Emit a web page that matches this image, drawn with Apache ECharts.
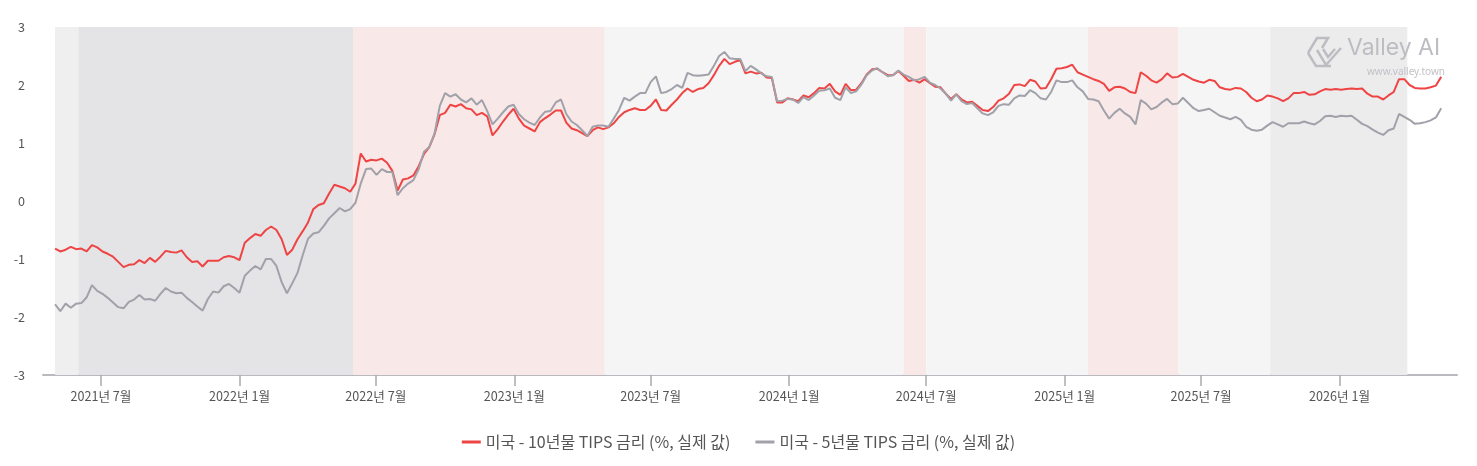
<!DOCTYPE html>
<html><head><meta charset="utf-8">
<script src="https://cdn.jsdelivr.net/npm/echarts@6/dist/echarts.min.js"></script>
<style>html,body{margin:0;padding:0;background:#fff}#c{width:1477px;height:466px}</style>
</head><body><div id="c"></div>
<script>
const SERIES_NAMES = ['미국 - 10년물 TIPS 금리 (%, 실제 값)', '미국 - 5년물 TIPS 금리 (%, 실제 값)'];
const FIRST_DATE = '2021-05-01';
const STEP_DAYS = 7;
const AXIS_MIN = '2021-04-15';
const AXIS_MAX = '2026-06-06';

const TIPS10 = [
-0.82,-0.87,-0.84,-0.79,-0.83,-0.82,-0.87,-0.76,-0.80,-0.87,
-0.91,-0.96,-1.05,-1.14,-1.10,-1.09,-1.02,-1.07,-0.98,-1.05,
-0.96,-0.86,-0.88,-0.89,-0.85,-0.97,-1.05,-1.04,-1.13,-1.03,
-1.03,-1.03,-0.97,-0.95,-0.97,-1.02,-0.72,-0.64,-0.57,-0.60,
-0.50,-0.44,-0.50,-0.66,-0.93,-0.84,-0.66,-0.52,-0.37,-0.14,
-0.07,-0.04,0.13,0.28,0.25,0.22,0.16,0.30,0.82,0.68,
0.71,0.70,0.73,0.66,0.52,0.18,0.37,0.39,0.44,0.60,
0.81,0.93,1.15,1.48,1.52,1.66,1.63,1.67,1.60,1.58,
1.48,1.52,1.46,1.13,1.24,1.37,1.49,1.59,1.42,1.30,
1.25,1.20,1.36,1.43,1.49,1.56,1.56,1.35,1.25,1.22,
1.17,1.12,1.22,1.27,1.24,1.27,1.34,1.45,1.53,1.57,
1.60,1.57,1.57,1.64,1.75,1.57,1.56,1.66,1.75,1.86,
1.94,1.88,1.93,1.95,2.03,2.17,2.33,2.45,2.36,2.40,
2.43,2.20,2.23,2.20,2.21,2.13,2.12,1.70,1.70,1.77,
1.75,1.72,1.82,1.79,1.86,1.95,1.94,2.02,1.89,1.83,
2.02,1.91,1.92,2.03,2.18,2.27,2.28,2.22,2.17,2.17,
2.24,2.16,2.07,2.09,2.04,2.10,2.03,1.97,1.96,1.85,
1.76,1.84,1.75,1.70,1.71,1.64,1.57,1.55,1.62,1.73,
1.77,1.85,2.00,2.01,1.98,2.09,2.06,1.94,1.95,2.10,
2.28,2.29,2.31,2.35,2.22,2.18,2.14,2.10,2.07,2.02,
1.90,1.96,1.97,1.94,1.88,1.86,2.22,2.16,2.08,2.04,
2.10,2.20,2.13,2.14,2.19,2.14,2.09,2.06,2.04,2.09,
2.07,1.96,1.93,1.92,1.95,1.94,1.88,1.78,1.72,1.75,
1.82,1.80,1.77,1.72,1.77,1.86,1.86,1.88,1.83,1.84,
1.89,1.93,1.92,1.93,1.92,1.93,1.94,1.93,1.94,1.85,
1.80,1.80,1.75,1.82,1.88,2.10,2.10,2.00,1.95,1.94,
1.94,1.96,1.99,2.14
];

const TIPS5 = [
-1.78,-1.90,-1.77,-1.84,-1.77,-1.76,-1.66,-1.45,-1.55,-1.60,
-1.67,-1.75,-1.83,-1.85,-1.74,-1.70,-1.62,-1.70,-1.69,-1.72,
-1.60,-1.50,-1.56,-1.59,-1.58,-1.67,-1.74,-1.82,-1.89,-1.69,
-1.56,-1.58,-1.47,-1.43,-1.50,-1.58,-1.29,-1.20,-1.12,-1.18,
-1.00,-1.00,-1.12,-1.40,-1.59,-1.42,-1.24,-0.93,-0.65,-0.56,
-0.54,-0.43,-0.30,-0.21,-0.12,-0.18,-0.14,-0.03,0.30,0.55,
0.56,0.45,0.55,0.50,0.50,0.10,0.22,0.30,0.36,0.55,
0.85,0.93,1.16,1.64,1.86,1.80,1.84,1.75,1.70,1.77,
1.66,1.74,1.55,1.32,1.42,1.53,1.63,1.66,1.50,1.41,
1.35,1.31,1.44,1.54,1.55,1.70,1.75,1.50,1.37,1.31,
1.22,1.12,1.28,1.30,1.30,1.28,1.42,1.57,1.78,1.73,
1.80,1.86,1.86,2.05,2.15,1.86,1.88,1.93,2.00,1.95,
2.21,2.17,2.16,2.17,2.18,2.33,2.50,2.57,2.46,2.45,
2.45,2.24,2.33,2.27,2.20,2.15,2.14,1.72,1.73,1.76,
1.75,1.69,1.79,1.74,1.82,1.90,1.91,1.94,1.78,1.74,
1.96,1.86,1.89,2.01,2.17,2.25,2.29,2.22,2.15,2.17,
2.25,2.18,2.14,2.08,2.10,2.14,2.04,2.00,1.94,1.85,
1.73,1.84,1.72,1.67,1.69,1.60,1.51,1.48,1.53,1.64,
1.67,1.66,1.77,1.82,1.81,1.91,1.86,1.77,1.75,1.88,
2.08,2.05,2.05,2.08,1.96,1.89,1.76,1.75,1.72,1.56,
1.42,1.52,1.59,1.51,1.45,1.32,1.74,1.68,1.58,1.62,
1.70,1.76,1.67,1.68,1.78,1.69,1.60,1.55,1.57,1.59,
1.53,1.47,1.44,1.41,1.45,1.40,1.28,1.23,1.21,1.23,
1.30,1.36,1.32,1.28,1.34,1.34,1.34,1.37,1.34,1.32,
1.38,1.46,1.47,1.45,1.47,1.46,1.47,1.40,1.33,1.29,
1.23,1.18,1.14,1.22,1.25,1.50,1.45,1.40,1.33,1.34,
1.36,1.39,1.44,1.60
];

const X_TICKS = ['2021-07-01','2022-01-01','2022-07-01','2023-01-01','2023-07-01','2024-01-01','2024-07-01','2025-01-01','2025-07-01','2026-01-01'];
const X_TICK_LABELS = ['2021년 7월','2022년 1월','2022년 7월','2023년 1월','2023년 7월','2024년 1월','2024년 7월','2025년 1월','2025년 7월','2026년 1월'];

// background regime periods: [start, end, kind]
const REGIMES = [
  ['2021-05-01','2021-06-01','light'],
  ['2021-06-01','2022-06-01','dark'],
  ['2022-06-01','2023-05-01','pink'],
  ['2023-05-01','2024-06-01','pale'],
  ['2024-06-01','2024-07-01','pink'],
  ['2024-07-01','2025-02-01','pale'],
  ['2025-02-01','2025-06-01','pink'],
  ['2025-06-01','2025-10-01','pale'],
  ['2025-10-01','2026-04-01','mid']
];
const REGIME_COLORS = {light:'#efeff0', dark:'#e4e4e7', pink:'#f9e8e8', pale:'#f5f5f5', mid:'#ececed'};

const DAY = 86400000;
const ts = s => new Date(s + 'T00:00:00Z').getTime();
const t0 = ts(FIRST_DATE);
const DATES = TIPS10.map((_, i) => t0 + i * STEP_DAYS * DAY);
const tickTs = X_TICKS.map(ts);
const FONT = '"Noto Sans CJK KR", "Noto Sans", sans-serif';
const LOGO = '#bcbcc2';

const chart = echarts.init(document.getElementById('c'), null, {renderer:'canvas'});
chart.setOption({
  backgroundColor:'#ffffff',
  animation:false,
  textStyle:{fontFamily:FONT},
  grid:{left:43, right:20, top:27, bottom:91},
  legend:{
    top:429, left:'center', icon:'rect', itemWidth:19, itemHeight:3, itemGap:25,
    textStyle:{fontFamily:FONT, fontSize:16, color:'#555'},
    data:SERIES_NAMES
  },
  xAxis:{
    type:'value',
    min:ts(AXIS_MIN),
    max:ts(AXIS_MAX),
    splitLine:{show:false},
    axisLine:{show:true, onZero:false, lineStyle:{color:'#b9b9bf', width:2}},
    axisTick:{show:true, length:11, customValues:tickTs, lineStyle:{color:'#a9a9b0', width:1.5}},
    axisLabel:{
      customValues:tickTs, margin:15, fontSize:12.6, color:'#555', fontFamily:FONT,
      formatter:function(v){
        const i = tickTs.findIndex(t => Math.abs(t - v) < DAY);
        return i >= 0 ? X_TICK_LABELS[i] : '';
      }
    }
  },
  yAxis:{
    type:'value', min:-3, max:3, interval:1,
    splitLine:{show:false},
    axisLine:{show:false}, axisTick:{show:false},
    axisLabel:{fontSize:12.6, color:'#555', margin:18, fontFamily:FONT}
  },
  graphic:[
    {type:'polyline', shape:{points:[[1308,53],[1317,38],[1328,38],[1322,48]]}, style:{stroke:LOGO, lineWidth:2.5, fill:null}, z:20},
    {type:'polyline', shape:{points:[[1308,53],[1316,66],[1331,66]]}, style:{stroke:LOGO, lineWidth:2.5, fill:null}, z:20},
    {type:'polyline', shape:{points:[[1317,50],[1326,65],[1341,48]]}, style:{stroke:LOGO, lineWidth:2.5, fill:null}, z:20},
    {type:'polyline', shape:{points:[[1323,49],[1328,57],[1335,49]]}, style:{stroke:LOGO, lineWidth:2.5, fill:null}, z:20},
    {type:'text', left:1347, top:37, style:{text:'Valley AI', fontSize:23, fontFamily:'"Inter", "Noto Sans", sans-serif', fill:LOGO}, z:20},
    {type:'text', right:32, top:67, style:{text:'www.valley.town', fontSize:10, fontFamily:'"Noto Sans", sans-serif', fill:'#c2c2c7'}, z:20}
  ],
  series:[
    {
      name:SERIES_NAMES[0], type:'line', showSymbol:false, symbol:'none',
      data:DATES.map((d,i)=>[d, TIPS10[i]]),
      lineStyle:{color:'#ef4444', width:2}, itemStyle:{color:'#ef4444'},
      z:3,
      markArea:{
        silent:true,
        data:REGIMES.map(r => [{xAxis:ts(r[0]), itemStyle:{color:REGIME_COLORS[r[2]]}}, {xAxis:ts(r[1])}])
      }
    },
    {
      name:SERIES_NAMES[1], type:'line', showSymbol:false, symbol:'none',
      data:DATES.map((d,i)=>[d, TIPS5[i]]),
      lineStyle:{color:'#a1a1aa', width:2}, itemStyle:{color:'#a1a1aa'},
      z:4
    }
  ]
});
</script>
</body></html>
